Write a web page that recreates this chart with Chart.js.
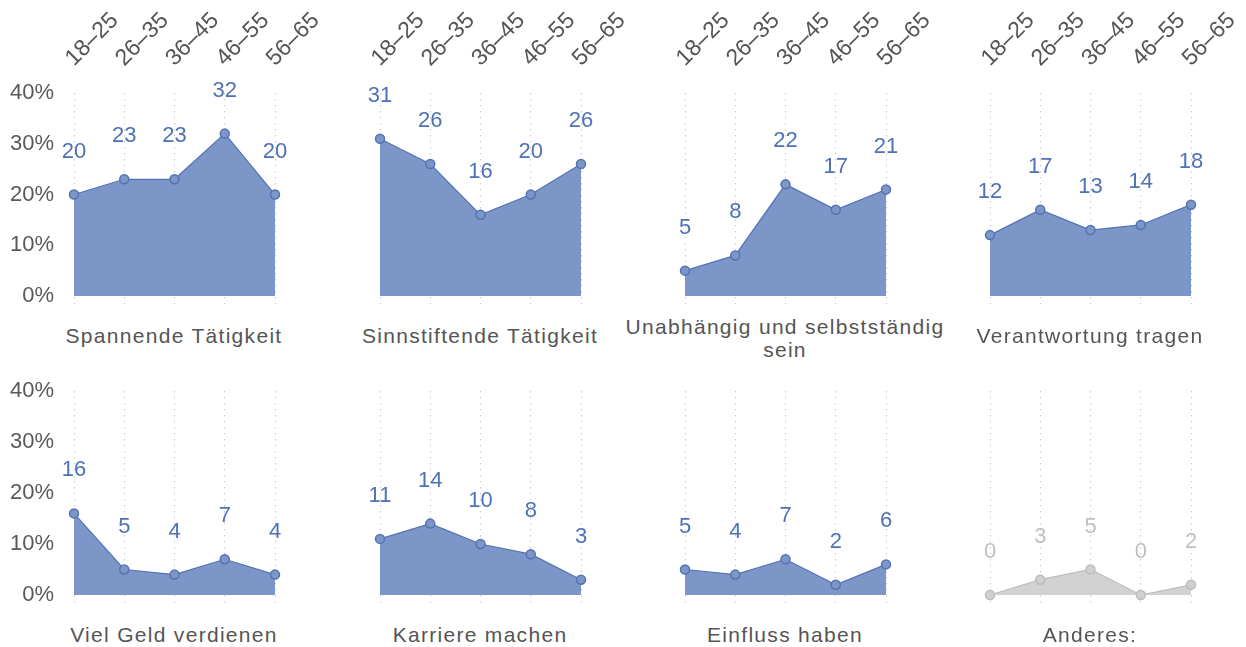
<!DOCTYPE html>
<html>
<head>
<meta charset="utf-8">
<script src="https://cdn.jsdelivr.net/npm/chart.js@4.4.0/dist/chart.umd.min.js"></script>
<style>
  body { margin: 0; background: #fff; width: 1246px; height: 647px; overflow: hidden; position: relative;
         font-family: "Liberation Sans", Arial, sans-serif; }
  canvas { position: absolute; }
  .title { position: absolute; width: 360px; text-align: center; color: #555; font-size: 21px;
           letter-spacing: 1.3px; line-height: 23px; }
</style>
</head>
<body>
<script>
// age groups on the top axis
const ageGroups = ['18–25', '26–35', '36–45', '46–55', '56–65'];
const yTicks = [0, 10, 20, 30, 40];

const categories = [
  'Spannende Tätigkeit', 'Sinnstiftende Tätigkeit', 'Unabhängig und selbstständig sein', 'Verantwortung tragen',
  'Viel Geld verdienen', 'Karriere machen', 'Einfluss haben', 'Anderes:'
];

const spannende     = [20, 23, 23, 32, 20];
const sinnstiftende = [31, 26, 16, 20, 26];
const unabhaengig   = [5, 8, 22, 17, 21];
const verantwortung = [12, 17, 13, 14, 18];
const geld          = [16, 5, 4, 7, 4];
const karriere      = [11, 14, 10, 8, 3];
const einfluss      = [5, 4, 7, 2, 6];
const anderes       = [0, 3, 5, 0, 2];

const series = [spannende, sinnstiftende, unabhaengig, verantwortung, geld, karriere, einfluss, anderes];

// draws the number above each point
const valueLabels = {
  id: 'valueLabels',
  afterDatasetsDraw(chart, args, opts) {
    const ctx = chart.ctx;
    const meta = chart.getDatasetMeta(0);
    const values = chart.data.datasets[0].data;
    ctx.save();
    ctx.font = '22px "Liberation Sans", Arial, sans-serif';
    ctx.fillStyle = opts.color;
    ctx.textAlign = 'center';
    ctx.textBaseline = 'middle';
    meta.data.forEach((pt, i) => ctx.fillText(values[i], pt.x, pt.y - 43));
    ctx.restore();
  }
};

const colX = [74, 380, 685, 990];
const blue = { fill: '#7b96c7', line: '#5373b5', point: '#7b96c7', label: '#4f71b6' };
const grey = { fill: '#d2d2d2', line: '#bdbdbd', point: '#d0d0d0', label: '#c0c0c0' };

series.forEach((data, idx) => {
  const row = Math.floor(idx / 4);
  const col = idx % 4;
  const c = idx === 7 ? grey : blue;

  const canvas = document.createElement('canvas');
  canvas.width = 330;
  canvas.height = 310;
  canvas.style.left = (colX[col] - 74) + 'px';
  canvas.style.top = (row === 0 ? 0 : 301) + 'px';
  document.body.appendChild(canvas);

  const title = document.createElement('div');
  title.className = 'title';
  title.innerHTML = idx === 2 ? 'Unabhängig und selbstständig<br>sein' : categories[idx];
  title.style.left = (colX[col] + 100 - 180) + 'px';
  title.style.top = (row === 0 ? (idx === 2 ? 315 : 324) : 623) + 'px';
  document.body.appendChild(title);

  new Chart(canvas, {
    type: 'line',
    data: {
      labels: ageGroups,
      datasets: [{
        data: data,
        fill: 'origin',
        backgroundColor: c.fill,
        borderColor: c.line,
        borderWidth: 1.2,
        tension: 0,
        pointRadius: 4.5,
        pointBackgroundColor: c.point,
        pointBorderColor: c.line,
        pointBorderWidth: 1.5,
        clip: false
      }]
    },
    options: {
      responsive: false,
      animation: false,
      devicePixelRatio: 1,
      layout: { padding: { left: 0, right: 55, top: 0, bottom: row === 0 ? 5 : 8 } },
      plugins: {
        legend: { display: false },
        tooltip: { enabled: false },
        valueLabels: { color: c.label }
      },
      scales: {
        x: {
          position: 'top',
          offset: false,
          grid: { display: true, color: '#c8c8c8', lineWidth: 1, drawTicks: false },
          border: { display: false, dash: [1.5, 4.5] },
          ticks: {
            display: row === 0,
            autoSkip: false,
            minRotation: 45,
            maxRotation: 45,
            labelOffset: 15,
            color: '#555',
            padding: 21,
            font: { family: '"Liberation Sans", Arial, sans-serif', size: 23 }
          },
          afterFit(scale) {
            scale.height = row === 0 ? 93 : 90;
            scale.paddingLeft = 0;
            scale.paddingRight = 0;
            scale.paddingTop = 0;
            scale.paddingBottom = 0;
          }
        },
        y: {
          display: col === 0,
          min: -1.57,
          max: 40,
          grid: { display: false, drawTicks: false },
          border: { display: false },
          afterBuildTicks(scale) { scale.ticks = yTicks.map(v => ({ value: v })); },
          ticks: {
            color: '#595959',
            padding: 20,
            callback: v => v + '%',
            font: { family: '"Liberation Sans", Arial, sans-serif', size: 22 }
          },
          afterFit(scale) {
            scale.width = 74;
            scale.paddingTop = 0;
            scale.paddingBottom = 0;
          }
        }
      }
    },
    plugins: [valueLabels]
  });
});
</script>
</body>
</html>
